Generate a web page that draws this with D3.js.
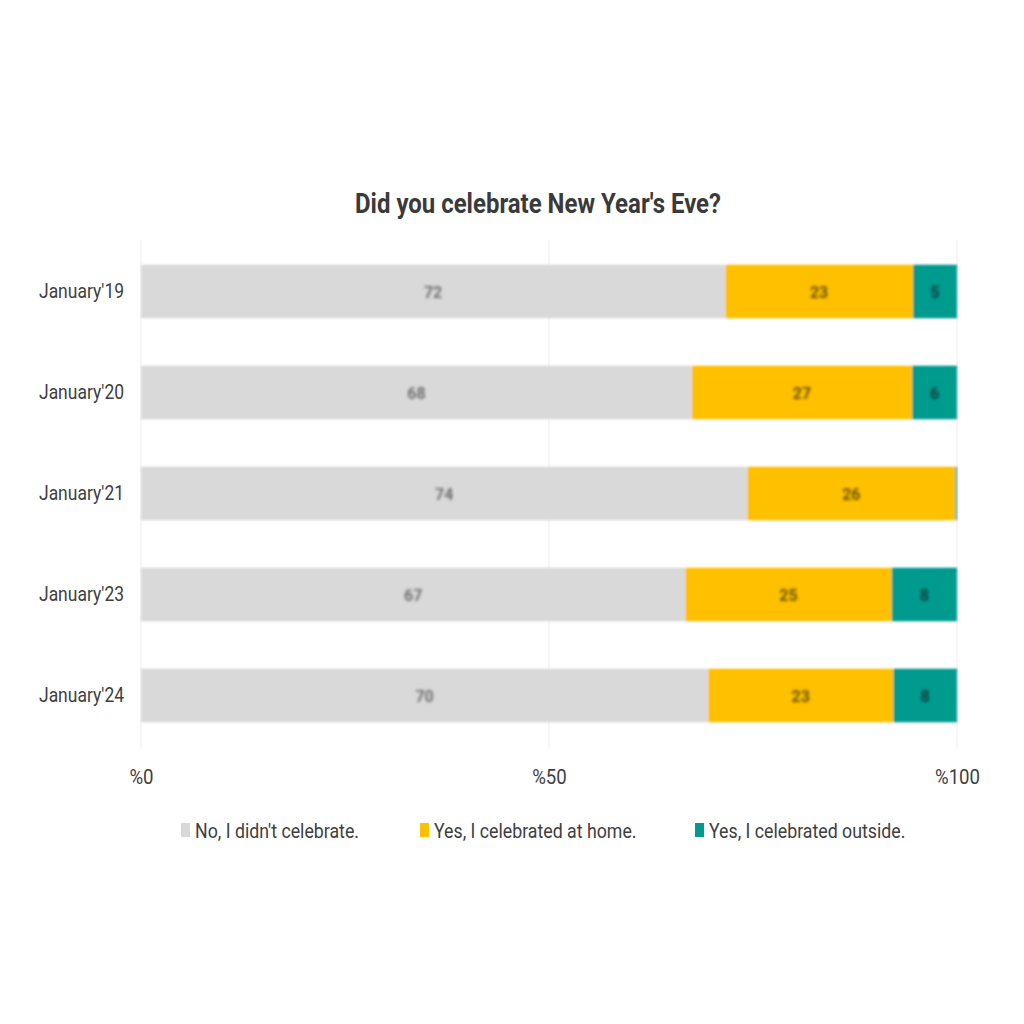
<!DOCTYPE html>
<html><head><meta charset="utf-8">
<script src="https://cdn.jsdelivr.net/npm/d3@7"></script>
<style>
body{margin:0;background:#fff;}
text{font-family:"Roboto","Liberation Sans",sans-serif;}
</style></head>
<body><svg id="c" width="1024" height="1024"></svg>
<script>
const categories = ["January'19","January'20","January'21","January'23","January'24"];
const seriesNames = ["No, I didn't celebrate.","Yes, I celebrated at home.","Yes, I celebrated outside."];
const noValues = [71.6, 67.5, 74.3, 66.7, 69.5];
const homeValues = [23.0, 27.0, 25.5, 25.3, 22.7];
const outsideValues = [5.4, 5.5, 0.2, 8.0, 7.8];
const xTicks = [0, 50, 100];
const colors = ["#d9d9d9", "#ffc000", "#009b8f"];

const svg = d3.select("#c");
const defs = svg.append("defs");
defs.append("filter").attr("id","blurL").append("feGaussianBlur").attr("stdDeviation",1.8);
defs.append("filter").attr("id","blurB").attr("x","-5%").attr("y","-20%").attr("width","110%").attr("height","140%")
  .append("feGaussianBlur").attr("stdDeviation",1.2);

function condense(sel, factor){
  sel.each(function(){
    const w = this.getComputedTextLength();
    d3.select(this).attr("textLength", w*factor).attr("lengthAdjust","spacingAndGlyphs");
  });
}

const x = d3.scaleLinear().domain([0,100]).range([141,957]);
const y = d3.scaleBand().domain(categories).range([241,746]).paddingInner(0.47).paddingOuter(0.235);

const title = svg.append("text").attr("x",538).attr("y",213).attr("text-anchor","middle")
  .attr("font-size",27).attr("font-weight","bold").attr("fill","#3a3a3a")
  .text("Did you celebrate New Year's Eve?");
condense(title, 366/title.node().getComputedTextLength());

svg.append("g").selectAll("line").data(xTicks).join("line")
  .attr("x1",d=>x(d)).attr("x2",d=>x(d)).attr("y1",240).attr("y2",748)
  .attr("stroke","#eeeeee").attr("stroke-width",1);

const rows = categories.map((c,i)=>({cat:c, vals:[noValues[i],homeValues[i],outsideValues[i]]}));
const stackData = rows.map(r=>{const o={cat:r.cat}; seriesNames.forEach((s,j)=>o[s]=r.vals[j]); return o;});
const stacked = d3.stack().keys(seriesNames)(stackData);

const gBars = svg.append("g").attr("filter","url(#blurB)");
stacked.forEach((layer,j)=>{
  gBars.append("g").selectAll("rect").data(layer).join("rect")
    .attr("x",d=>x(d[0])).attr("width",d=>x(d[1])-x(d[0]))
    .attr("y",d=>y(d.data.cat)).attr("height",y.bandwidth())
    .attr("fill",colors[j]);
});
const gLab = svg.append("g").attr("filter","url(#blurL)");
const labColors = ["#707070","#6b5200","#0f3d3a"];
stacked.forEach((layer,j)=>{
  gLab.append("g").selectAll("text").data(layer.filter(d=>d[1]-d[0]>=2)).join("text")
    .attr("x",d=>x((d[0]+d[1])/2)).attr("y",d=>y(d.data.cat)+y.bandwidth()/2+6)
    .attr("text-anchor","middle").attr("font-size",16).attr("font-weight","bold")
    .attr("fill",labColors[j]).text(d=>d3.format(".0f")(d[1]-d[0]));
});

const yAxis = d3.axisLeft(y).tickSize(0).tickPadding(17);
const gy = svg.append("g").attr("transform","translate(141,0)").call(yAxis);
gy.select(".domain").remove();
const yt = gy.selectAll("text").attr("font-size",20).attr("fill","#404040")
  .style("font-family",'"Roboto",sans-serif');
condense(yt, 85/yt.node().getComputedTextLength());

const xAxis = d3.axisBottom(x).tickValues(xTicks).tickSize(0).tickPadding(0).tickFormat(d=>"%"+d);
const gx = svg.append("g").attr("transform","translate(0,770)").call(xAxis);
gx.select(".domain").remove();
const xt = gx.selectAll("text").attr("font-size",20).attr("fill","#404040")
  .style("font-family",'"Roboto",sans-serif');
condense(xt, 45/xt.nodes()[2].getComputedTextLength());

const legX = [181, 420, 695];
const leg = svg.append("g");
seriesNames.forEach((s,j)=>{
  leg.append("rect").attr("x",legX[j]).attr("y",823).attr("width",9).attr("height",14).attr("fill",colors[j]);
  leg.append("text").attr("x",legX[j]+14).attr("y",838).attr("font-size",20).attr("fill","#404040").text(s);
});
const lt = leg.selectAll("text");
condense(lt, 164/lt.node().getComputedTextLength());
</script></body></html>
